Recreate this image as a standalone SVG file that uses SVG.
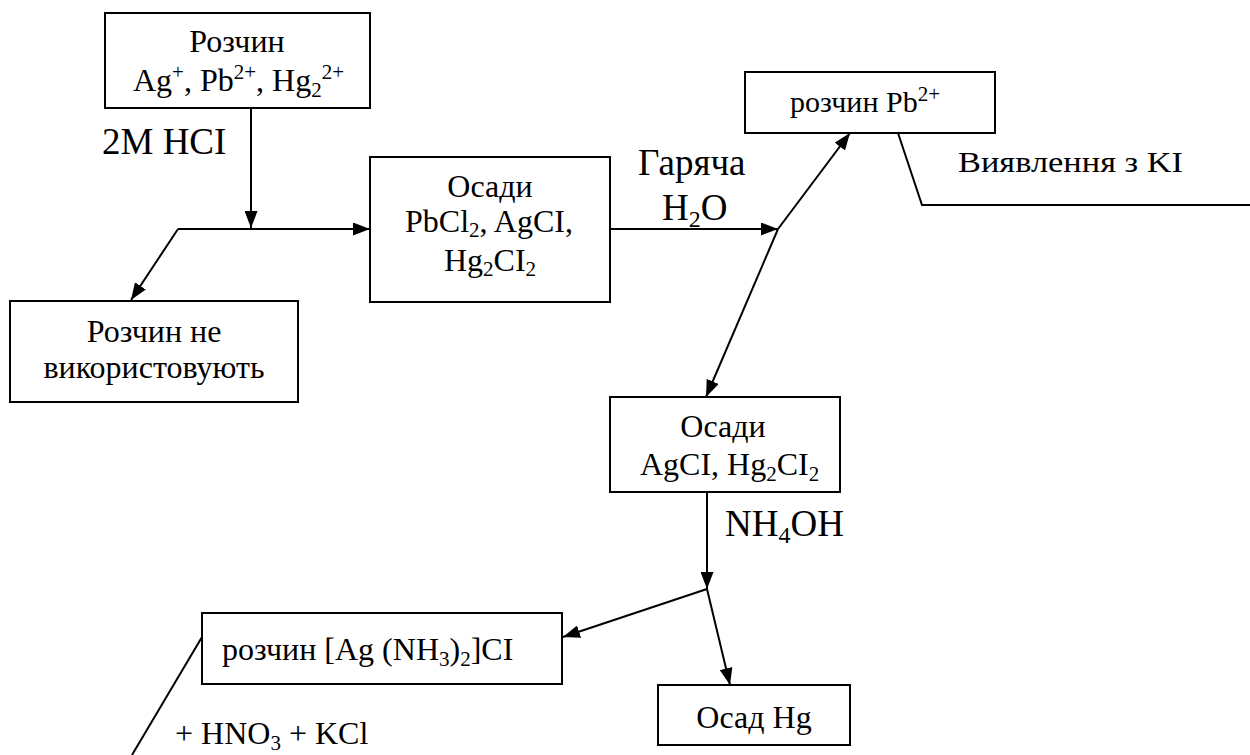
<svg xmlns="http://www.w3.org/2000/svg" width="1250" height="755" viewBox="0 0 1250 755">
<defs>
<marker id="ah" viewBox="0 0 17 13" refX="17" refY="6.5" markerWidth="17" markerHeight="13" markerUnits="userSpaceOnUse" orient="auto">
<path d="M0,0 L17,6.5 L0,13 Z" fill="#000"/>
</marker>
<style>
rect.n{fill:#fff;stroke:#000;stroke-width:2}
text{font-family:"Liberation Serif",serif;fill:#000}
.b{font-size:32px}
.m{font-size:30px}
.l{font-size:37px}
.s{font-size:21px}
.ls{font-size:24px}
#connectors line,#connectors polyline{stroke:#000;stroke-width:2;fill:none}
</style>
</defs>
<rect width="1250" height="755" fill="#fff"/>
<g id="connectors">
<line x1="251" y1="108" x2="251" y2="228" marker-end="url(#ah)"/>
<line x1="178" y1="229" x2="370" y2="229" marker-end="url(#ah)"/>
<line x1="178" y1="229" x2="131" y2="300" marker-end="url(#ah)"/>
<line x1="610" y1="229" x2="778" y2="229" marker-end="url(#ah)"/>
<line x1="778" y1="229" x2="850" y2="133" marker-end="url(#ah)"/>
<line x1="778" y1="229" x2="706" y2="397" marker-end="url(#ah)"/>
<polyline points="898,133 922,205 1250,205"/>
<line x1="707" y1="492" x2="707" y2="589" marker-end="url(#ah)"/>
<line x1="707" y1="589" x2="563" y2="637" marker-end="url(#ah)"/>
<line x1="707" y1="589" x2="730" y2="685" marker-end="url(#ah)"/>
<line x1="202" y1="637" x2="132" y2="755"/>
</g>
<g id="n1" font-family="Liberation Serif, serif">
<rect class="n" x="105" y="13" width="265" height="95"/>
<text class="b" x="237" y="52" text-anchor="middle">Розчин</text>
<text class="b" x="133" y="91">Ag<tspan class="s" dy="-12">+</tspan><tspan dy="12">, Pb</tspan><tspan class="s" dy="-12">2+</tspan><tspan dy="12">, Hg</tspan><tspan class="s" dy="6">2</tspan><tspan class="s" dy="-18">2+</tspan></text>
</g>
<g id="lbl-hcl" font-family="Liberation Serif, serif">
<text class="l" x="102" y="154">2M HCI</text>
</g>
<g id="n2" font-family="Liberation Serif, serif">
<rect class="n" x="10" y="301" width="288" height="101"/>
<text class="b" x="154" y="342" text-anchor="middle">Розчин не</text>
<text class="b" x="154" y="378" text-anchor="middle">використовують</text>
</g>
<g id="n3" font-family="Liberation Serif, serif">
<rect class="n" x="370" y="157" width="240" height="145"/>
<text class="b" x="490" y="197" text-anchor="middle">Осади</text>
<text class="b" x="405" y="232">PbCl<tspan class="s" dy="5">2</tspan><tspan dy="-5">, AgCI,</tspan></text>
<text class="b" x="444" y="271">Hg<tspan class="s" dy="5">2</tspan><tspan dy="-5">CI</tspan><tspan class="s" dy="5">2</tspan></text>
</g>
<g id="lbl-h2o" font-family="Liberation Serif, serif">
<text class="l" x="638" y="175">Гаряча</text>
<text class="l" x="662" y="220">H<tspan class="ls" dy="7">2</tspan><tspan dy="-7">O</tspan></text>
</g>
<g id="n4" font-family="Liberation Serif, serif">
<rect class="n" x="745" y="72" width="250" height="61"/>
<text class="m" x="790" y="112">розчин Pb<tspan class="s" dy="-11">2+</tspan></text>
</g>
<g id="lbl-ki" font-family="Liberation Serif, serif">
<text class="m" x="958" y="172" textLength="225" lengthAdjust="spacingAndGlyphs">Виявлення з KI</text>
</g>
<g id="n5" font-family="Liberation Serif, serif">
<rect class="n" x="610" y="397" width="230" height="95"/>
<text class="b" x="723" y="437" text-anchor="middle">Осади</text>
<text class="b" x="640" y="475">AgCI, Hg<tspan class="s" dy="6">2</tspan><tspan dy="-6">CI</tspan><tspan class="s" dy="6">2</tspan></text>
</g>
<g id="lbl-nh4oh" font-family="Liberation Serif, serif">
<text class="l" x="725" y="536">NH<tspan class="ls" dy="7">4</tspan><tspan dy="-7">OH</tspan></text>
</g>
<g id="n6" font-family="Liberation Serif, serif">
<rect class="n" x="202" y="613" width="360" height="71"/>
<text class="b" x="222" y="660">розчин [Ag (NH<tspan class="s" dy="6">3</tspan><tspan dy="-6">)</tspan><tspan class="s" dy="6">2</tspan><tspan dy="-6">]CI</tspan></text>
</g>
<g id="n7" font-family="Liberation Serif, serif">
<rect class="n" x="658" y="685" width="192" height="60"/>
<text class="b" x="754" y="728" text-anchor="middle">Осад Hg</text>
</g>
<g id="lbl-hno3" font-family="Liberation Serif, serif">
<text class="b" x="175" y="744">+ HNO<tspan class="s" dy="6">3</tspan><tspan dy="-6"> + KCl</tspan></text>
</g>
</svg>
